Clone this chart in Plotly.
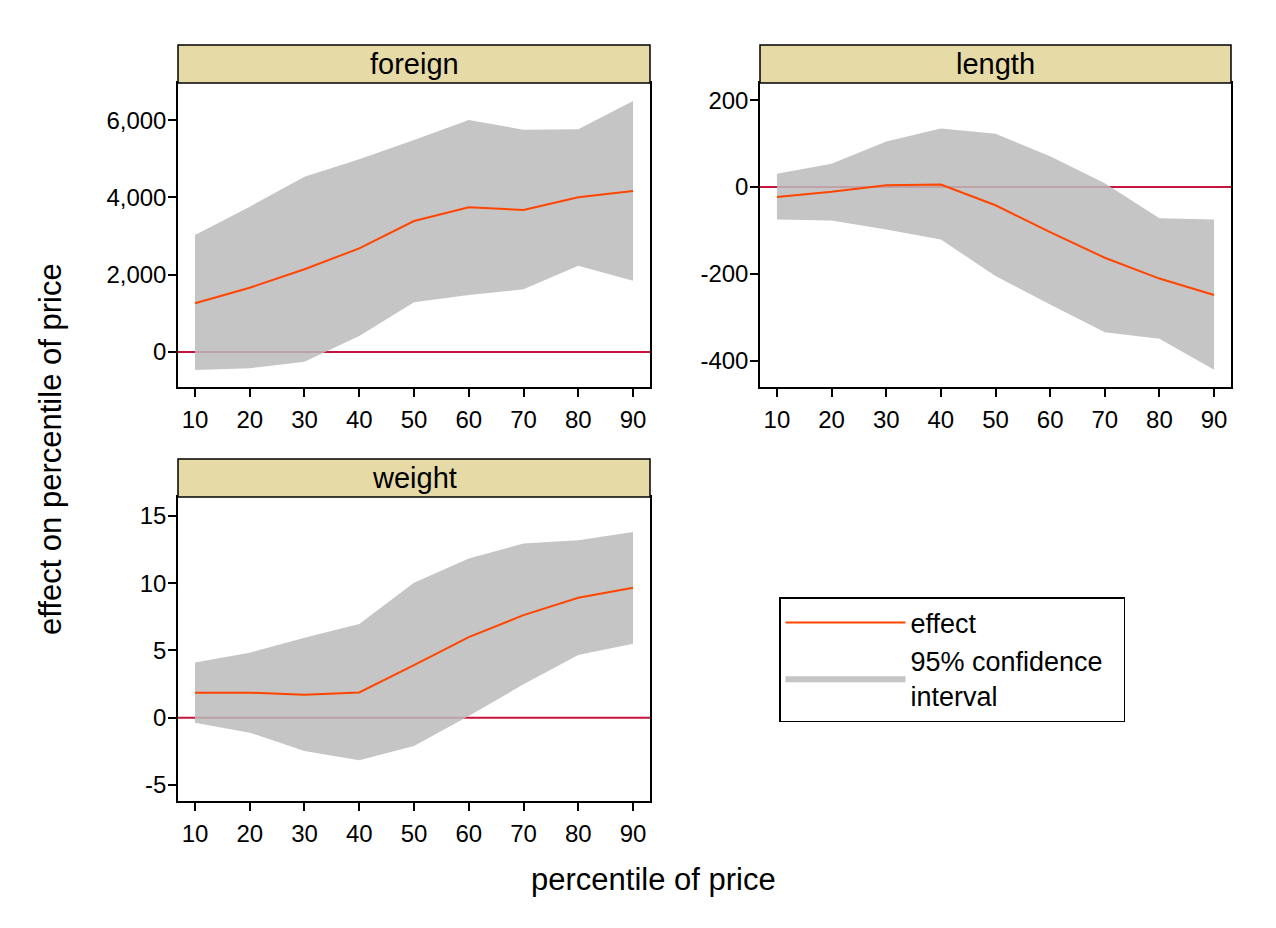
import plotly.graph_objects as go

W, H = 1276, 928
FONT = "Liberation Sans"

percentiles = [10, 20, 30, 40, 50, 60, 70, 80, 90]

foreign_effect = [1260, 1664, 2140, 2683, 3390, 3743, 3674, 4002, 4165]
foreign_upper = [3027, 3760, 4536, 4985, 5485, 6003, 5752, 5761, 6494]
foreign_lower = [-466, -423, -250, 414, 1285, 1475, 1622, 2233, 1845]

length_effect = [-23, -11, 4, 6, -42, -104, -163, -211, -249]
length_upper = [31, 54, 105, 135, 123, 71, 9, -72, -75]
length_lower = [-75, -77, -98, -121, -205, -271, -335, -350, -421]

weight_effect = [1.86, 1.86, 1.71, 1.88, 3.91, 5.99, 7.62, 8.91, 9.65]
weight_upper = [4.11, 4.83, 5.94, 6.96, 10.02, 11.83, 12.95, 13.19, 13.79]
weight_lower = [-0.37, -1.11, -2.48, -3.17, -2.10, 0.12, 2.48, 4.65, 5.50]

panel_titles = ["foreign", "length", "weight"]
foreign_ticks = [0, 2000, 4000, 6000]
foreign_ticktext = ["0", "2,000", "4,000", "6,000"]
length_ticks = [-400, -200, 0, 200]
length_ticktext = ["-400", "-200", "0", "200"]
weight_ticks = [-5, 0, 5, 10, 15]
weight_ticktext = ["-5", "0", "5", "10", "15"]

LINE_COLOR = "#FF4500"
ZERO_COLOR = "#C8143C"
BAND_COLOR = "rgba(187,187,187,0.85)"
STRIP_COLOR = "#E6DAA6"

TICK_SIZE = 24
STRIP_SIZE = 29
TITLE_SIZE = 31
LEGEND_SIZE = 27

# pixel layout of panels: (x0, x1, y0_top, y1_bottom)
panels = [
    (178, 650, 83, 387),
    (760, 1231, 83, 387),
    (178, 650, 497, 801),
]
strip_h = 38

def px(x):
    return x / W

def py(y):
    return 1 - y / H

fig = go.Figure()

data = [
    (foreign_effect, foreign_upper, foreign_lower, foreign_ticks, foreign_ticktext, [-905, 6960]),
    (length_effect, length_upper, length_lower, length_ticks, length_ticktext, [-461, 240]),
    (weight_effect, weight_upper, weight_lower, weight_ticks, weight_ticktext, [-6.19, 16.4]),
]

shapes = []
annotations = []
for i, ((eff, up, lo, tv, tt, yr), (x0, x1, y0, y1)) in enumerate(zip(data, panels)):
    n = "" if i == 0 else str(i + 1)
    xa, ya = "x" + n, "y" + n
    fig.add_trace(go.Scatter(x=percentiles, y=lo, mode="lines", line=dict(width=0),
                             xaxis=xa, yaxis=ya, showlegend=False, hoverinfo="skip"))
    fig.add_trace(go.Scatter(x=percentiles, y=up, mode="lines", line=dict(width=0),
                             fill="tonexty", fillcolor=BAND_COLOR,
                             name="95% confidence\u00a0\u00a0<br>interval", legendrank=2,
                             xaxis=xa, yaxis=ya, showlegend=(i == 0)))
    fig.add_trace(go.Scatter(x=percentiles, y=eff, mode="lines",
                             line=dict(color=LINE_COLOR, width=2),
                             name="effect", legendrank=1,
                             xaxis=xa, yaxis=ya, showlegend=(i == 0)))
    axis_common = dict(showline=True, linecolor="black", linewidth=1.5, mirror=True,
                       ticks="outside", ticklen=8, tickwidth=1.5, tickcolor="black",
                       showgrid=False, zeroline=False,
                       tickfont=dict(family=FONT, size=TICK_SIZE, color="black"))
    fig.layout["xaxis" + n] = dict(domain=[px(x0), px(x1)], anchor=ya,
                                   range=[6.9, 93.1], tickvals=percentiles,
                                   ticktext=[str(p) for p in percentiles],
                                   ticklabelstandoff=2, **axis_common)
    fig.layout["yaxis" + n] = dict(domain=[py(y1), py(y0)], anchor=xa,
                                   range=yr, tickvals=tv, ticktext=tt,
                                   ticklabelstandoff=-3, **axis_common)
    # zero reference line
    shapes.append(dict(type="line", xref=xa + " domain", yref=ya, x0=0, x1=1, y0=0, y1=0,
                       line=dict(color=ZERO_COLOR, width=2), layer="below"))
    # strip
    shapes.append(dict(type="rect", xref="paper", yref="paper",
                       x0=px(x0), x1=px(x1), y0=py(y0), y1=py(y0 - strip_h),
                       fillcolor=STRIP_COLOR, line=dict(color="black", width=1.5)))
    annotations.append(dict(text=panel_titles[i], xref="paper", yref="paper",
                            x=px((x0 + x1) / 2), y=py(y0 - strip_h / 2),
                            xanchor="center", yanchor="middle", showarrow=False,
                            font=dict(family=FONT, size=STRIP_SIZE, color="black")))

annotations.append(dict(text="effect on percentile of price", xref="paper", yref="paper",
                        x=px(50), y=py(449), textangle=-90, showarrow=False,
                        xanchor="center", yanchor="middle",
                        font=dict(family=FONT, size=TITLE_SIZE, color="black")))
annotations.append(dict(text="percentile of price", xref="paper", yref="paper",
                        x=px(654), y=py(879), showarrow=False,
                        xanchor="center", yanchor="middle",
                        font=dict(family=FONT, size=TITLE_SIZE, color="black")))

fig.update_layout(
    width=W, height=H,
    margin=dict(l=0, r=0, t=0, b=0),
    paper_bgcolor="white", plot_bgcolor="white",
    shapes=shapes, annotations=annotations,
    showlegend=True,
    legend=dict(x=px(779), y=py(597), xanchor="left", yanchor="top",
                traceorder="normal",
                bordercolor="black", borderwidth=1.5, bgcolor="white",
                font=dict(family=FONT, size=LEGEND_SIZE, color="black"),
                itemwidth=120, tracegroupgap=4),
)

fig.write_html("out.html")
